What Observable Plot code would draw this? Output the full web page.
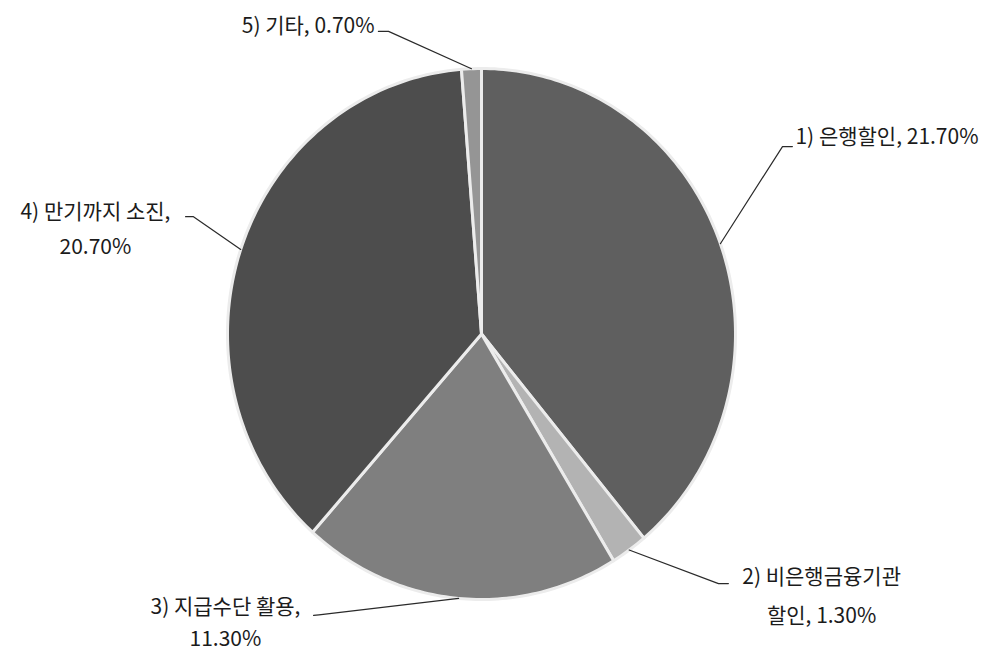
<!DOCTYPE html>
<html><head><meta charset="utf-8">
<script src="https://cdn.jsdelivr.net/npm/d3@7"></script>
<script src="https://cdn.jsdelivr.net/npm/@observablehq/plot@0.6"></script>
<style>body{margin:0;background:#fff;}</style>
</head><body><div id="chart"></div>
<script>
// ---- data ----
const categories = ["1) 은행할인", "2) 비은행금융기관 할인", "3) 지급수단 활용", "4) 만기까지 소진", "5) 기타"];
const values = [21.7, 1.3, 11.3, 20.7, 0.7];
const valueLabels = ["21.70%", "1.30%", "11.30%", "20.70%", "0.70%"];
const labelLines = [
  ["1) 은행할인, 21.70%"],
  ["2) 비은행금융기관", "할인, 1.30%"],
  ["3) 지급수단 활용,", "11.30%"],
  ["4) 만기까지 소진,", "20.70%"],
  ["5) 기타, 0.70%"]
];

// ---- styles ----
const sliceColors = ["#5f5f5f", "#b3b3b3", "#7f7f7f", "#4d4d4d", "#959595"];

// ---- label layout (in unit-circle data space) ----
const labelLayout = [
  {elbow: [1.185, 0.706], end: [1.224, 0.706], x: 1.236, ys: [0.740], anchor: "start"},
  {elbow: [0.933, -0.940], end: [0.972, -0.940], x: 1.339, ys: [-0.917, -1.064], anchor: "middle"},
  {elbow: [-0.640, -1.058], end: [-0.661, -1.060], x: -1.008, ys: [-1.030, -1.148], anchor: "middle"},
  {elbow: [-1.134, 0.442], end: [-1.165, 0.442], x: -1.520, ys: [0.460, 0.328], anchor: "middle"},
  {elbow: [-0.366, 1.140], end: [-0.406, 1.140], x: -0.421, ys: [1.160], anchor: "end"}
];

// ---- geometry from values ----
const total = d3.sum(values);
let acc = 0;
const slices = values.map((v, i) => {
  const a0 = acc / total * 2 * Math.PI;
  acc += v;
  const a1 = acc / total * 2 * Math.PI;
  const n = Math.max(2, Math.ceil((a1 - a0) / (Math.PI / 180)));
  const pts = [{x: 0, y: 0}];
  for (let k = 0; k <= n; k++) {
    const a = a0 + (a1 - a0) * k / n;
    pts.push({x: Math.sin(a), y: Math.cos(a)});
  }
  pts.push({x: 0, y: 0});
  return {i, a0, a1, mid: (a0 + a1) / 2, pts};
});

const leaderPts = slices.flatMap(s => {
  const L = labelLayout[s.i];
  return [
    {i: s.i, x: Math.sin(s.mid), y: Math.cos(s.mid)},
    {i: s.i, x: L.elbow[0], y: L.elbow[1]},
    {i: s.i, x: L.end[0], y: L.end[1]}
  ];
});

const textRows = labelLines.flatMap((lines, i) =>
  lines.map((t, j) => ({i, text: t, x: labelLayout[i].x, y: labelLayout[i].ys[j], anchor: labelLayout[i].anchor}))
);

const font = "'Noto Sans CJK KR', 'Noto Sans', sans-serif";
const textOpts = a => ({x: "x", y: "y", text: "text", textAnchor: a, fontSize: 21, fill: "#1b1b1b", fontFamily: font});

const chart = Plot.plot({
  width: 995,
  height: 654,
  marginLeft: 227,
  marginRight: 260,
  marginTop: 68,
  marginBottom: 55,
  x: {domain: [-1, 1], axis: null},
  y: {domain: [-1, 1], axis: null},
  style: {background: "#fff", fontFamily: font},
  marks: [
    ...slices.map(s => Plot.line(s.pts, {
      x: "x", y: "y", fill: sliceColors[s.i], stroke: "#ececec", strokeWidth: 3, strokeLinejoin: "round", curve: "linear"
    })),
    Plot.line(leaderPts, {x: "x", y: "y", z: "i", stroke: "#2a2a2a", strokeWidth: 1.2}),
    Plot.text(textRows.filter(d => d.anchor === "start"), textOpts("start")),
    Plot.text(textRows.filter(d => d.anchor === "middle"), textOpts("middle")),
    Plot.text(textRows.filter(d => d.anchor === "end"), textOpts("end"))
  ]
});
document.getElementById("chart").appendChild(chart);
</script>
</body></html>
